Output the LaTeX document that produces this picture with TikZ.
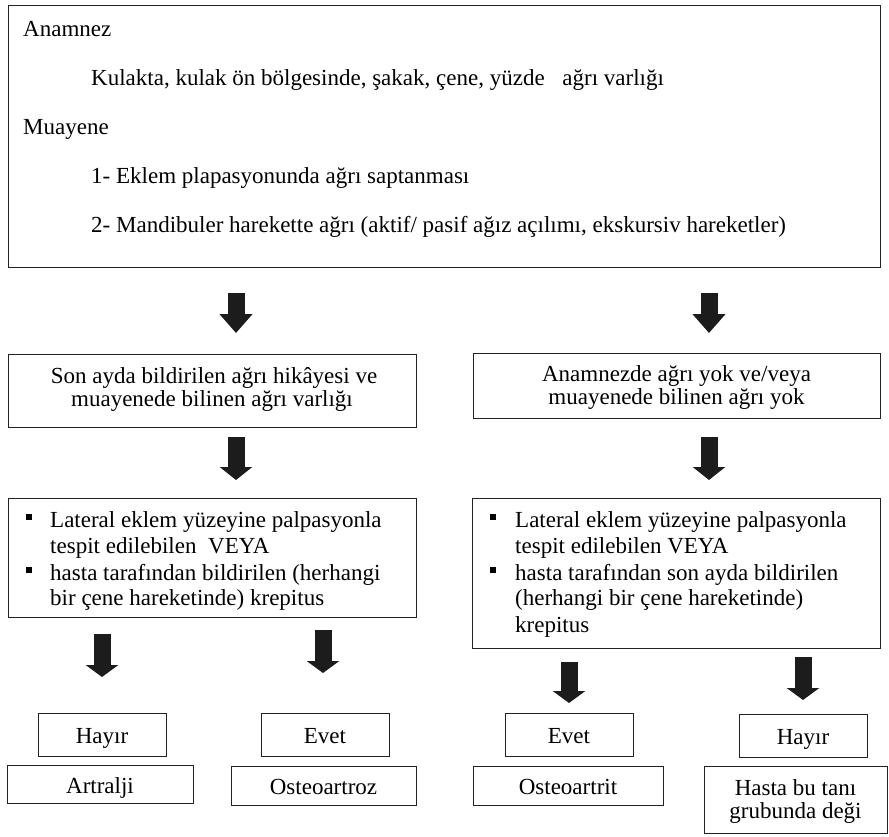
\documentclass[tikz,border=0pt]{standalone}
\usepackage{fontspec}
\setmainfont{Liberation Serif}
\usetikzlibrary{arrows.meta}
\definecolor{linec}{HTML}{222222}
\definecolor{arrc}{HTML}{1C1C1C}
\begin{document}
\begin{tikzpicture}[x=1pt,y=-1pt,
  box/.style={draw=linec,line width=1.3pt,inner sep=0pt,anchor=north west},
  lt/.style={inner sep=0pt,anchor=base west,font=\fontsize{23}{26}\selectfont},
  ct/.style={inner sep=0pt,anchor=base,font=\fontsize{23}{26}\selectfont},
  bul/.style={fill=black,inner sep=0pt,minimum size=6pt},
  blockarrow/.style={draw=arrc,line width=17pt,-{Triangle[width=32pt,length=#1]}},
  blockarrow/.default=13pt]
\useasboundingbox (0,0) rectangle (889,836);
% boxes
\node[box,minimum width=872pt,minimum height=262pt] (top) at (8,5) {};
\node[box,minimum width=407.5pt,minimum height=73pt] (son) at (8,354) {};
\node[box,minimum width=407pt,minimum height=65pt] (yok) at (473,353) {};
\node[box,minimum width=407.5pt,minimum height=119pt] (bL) at (8,498) {};
\node[box,minimum width=408pt,minimum height=150pt] (bR) at (472,498) {};
\node[box,minimum width=128pt,minimum height=43pt] (hayirL) at (38,713) {};
\node[box,minimum width=128pt,minimum height=43pt] (evetL) at (261,713) {};
\node[box,minimum width=128pt,minimum height=43pt] (evetR) at (505,713) {};
\node[box,minimum width=128pt,minimum height=43pt] (hayirR) at (739,714) {};
\node[box,minimum width=186pt,minimum height=38pt] (artralji) at (7,765) {};
\node[box,minimum width=185pt,minimum height=39pt] (oartroz) at (231,766) {};
\node[box,minimum width=190pt,minimum height=39pt] (oartrit) at (473,766) {};
\node[box,minimum width=183pt,minimum height=67pt] (hasta) at (704,766) {};
% top box text
\node[lt] (t1) at (23,36) {Anamnez};
\node[lt] (t2) at (91,85) {Kulakta, kulak ön bölgesinde, şakak, çene, yüzde\hspace{12pt} ağrı varlığı};
\node[lt] (t3) at (23,134) {Muayene};
\node[lt] (t4) at (91,183) {1- Eklem plapasyonunda ağrı saptanması};
\node[lt] (t5) at (91,232) {2- Mandibuler harekette ağrı (aktif/ pasif ağız açılımı, ekskursiv hareketler)};
% second row
\node[ct] (s1) at (214,383) {Son ayda bildirilen ağrı hikâyesi ve};
\node[ct] (s2) at (212,406) {muayenede bilinen ağrı varlığı};
\node[ct] (y1) at (676.5,381) {Anamnezde ağrı yok ve/veya};
\node[ct] (y2) at (676.5,404) {muayenede bilinen ağrı yok};
% bullet boxes
\node[bul] (bl1) at (29,517) {};
\node[bul] (bl2) at (29,570) {};
\node[lt] (l1) at (50,527) {Lateral eklem yüzeyine palpasyonla};
\node[lt] (l2) at (50,553) {tespit edilebilen\hspace{6pt} VEYA};
\node[lt] (l3) at (50,580) {hasta tarafından bildirilen (herhangi};
\node[lt] (l4) at (50,605) {bir çene hareketinde) krepitus};
\node[bul] (br1) at (493,517) {};
\node[bul] (br2) at (493,570) {};
\node[lt] (r1) at (515,527) {Lateral eklem yüzeyine palpasyonla};
\node[lt] (r2) at (515,553) {tespit edilebilen VEYA};
\node[lt] (r3) at (515,580) {hasta tarafından son ayda bildirilen};
\node[lt] (r4) at (515,605) {(herhangi bir çene hareketinde)};
\node[lt] (r5) at (515,632) {krepitus};
% bottom texts
\node[ct] (h1) at (102,743) {Hayır};
\node[ct] (e1) at (325,743) {Evet};
\node[ct] (e2) at (569,743) {Evet};
\node[ct] (h2) at (803,744) {Hayır};
\node[ct] (o1) at (100,793) {Artralji};
\node[ct] (o2) at (323.5,794) {Osteoartroz};
\node[ct] (o3) at (568,794) {Osteoartrit};
\node[ct] (o4) at (795.5,795) {Hasta bu tanı};
\node[ct] (o5) at (795.5,818) {grubunda deği};
% arrow endpoints
\coordinate (a1s) at (236,293); \coordinate (a1e) at (236,333);
\coordinate (a2s) at (709,293); \coordinate (a2e) at (709,333);
\coordinate (a3s) at (236,437); \coordinate (a3e) at (236,480);
\coordinate (a4s) at (709,437); \coordinate (a4e) at (709,480);
\coordinate (a5s) at (102,634); \coordinate (a5e) at (102,677);
\coordinate (a6s) at (323,630); \coordinate (a6e) at (323,673);
\coordinate (a7s) at (569,662); \coordinate (a7e) at (569,703);
\coordinate (a8s) at (803,657); \coordinate (a8e) at (803,700);
\draw[blockarrow=19pt] (a1s) -- (a1e);
\draw[blockarrow=19pt] (a2s) -- (a2e);
\draw[blockarrow] (a3s) -- (a3e);
\draw[blockarrow] (a4s) -- (a4e);
\draw[blockarrow=12pt] (a5s) -- (a5e);
\draw[blockarrow=12pt] (a6s) -- (a6e);
\draw[blockarrow=12pt] (a7s) -- (a7e);
\draw[blockarrow=12pt] (a8s) -- (a8e);
\end{tikzpicture}
\end{document}
